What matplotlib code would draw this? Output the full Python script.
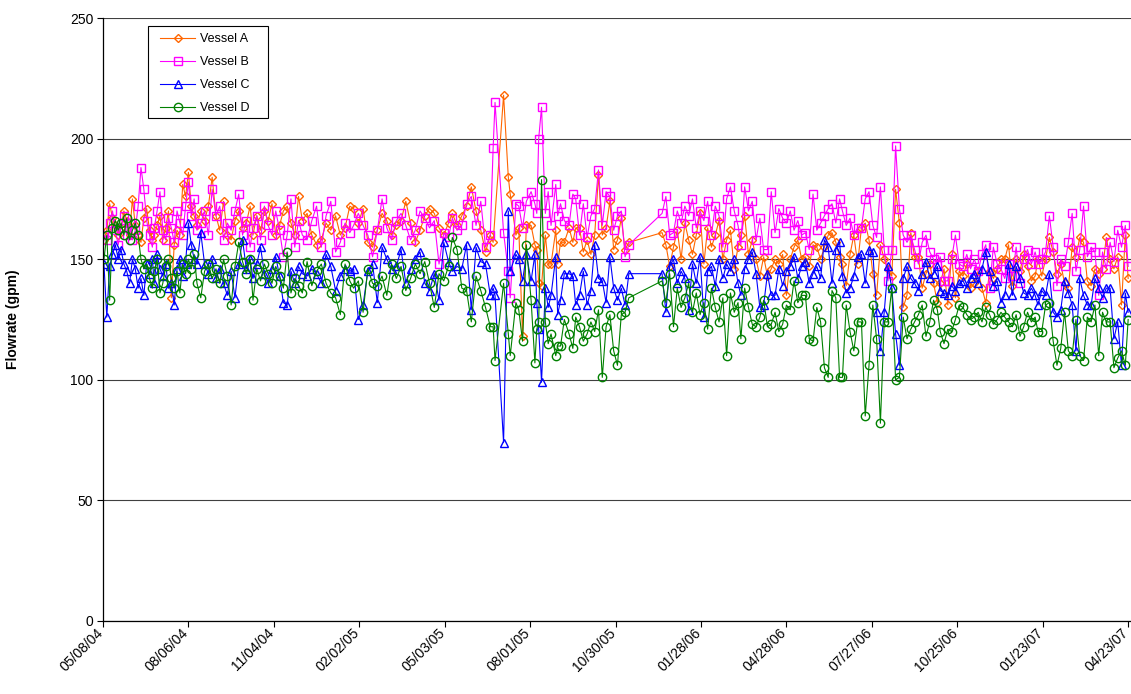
import numpy as np
import pandas as pd
import matplotlib
matplotlib.use('Agg')
import matplotlib.pyplot as plt
import matplotlib.dates as mdates
from matplotlib.patches import Rectangle
from matplotlib.transforms import ScaledTranslation

plt.rcParams['font.family'] = ['Liberation Sans', 'DejaVu Sans']

start = pd.Timestamp('2004-05-08')

# sampling days, counted from 05/08/04
days = [
    1, 4, 7, 10, 13, 16, 19, 22, 25, 28, 31, 34, 37, 40, 43, 46, 49, 52, 54, 57, 60, 63, 66, 69, 72, 75, 78, 81, 84, 87, 90, 93, 96, 99,
    103, 107, 111, 115, 119, 123, 127, 131, 135, 139, 143, 147, 151, 155, 158, 162, 166, 170, 174, 178, 182, 186, 190, 194, 198, 202, 206,
    210, 215, 220, 225, 230, 235, 240, 245, 250, 255, 260, 264, 269, 274, 279, 284, 289, 294, 299, 304, 309,
    314, 319, 324, 329, 334, 339, 344, 349, 354, 359, 364, 368, 373, 378, 383, 388, 393, 398, 403, 408,
    411, 413, 422, 427, 429, 435, 438, 442, 446, 451, 455, 457, 459, 462, 466, 469, 472, 477, 479, 482, 486, 491, 495, 498,
    502, 506, 510, 514, 518, 522, 526, 530, 534, 538, 542, 546, 550, 554,
    589, 593, 597, 601, 605, 609, 613, 617, 621, 625, 629, 633, 637, 641, 645, 649, 653, 657, 661, 665, 669, 672, 676, 680, 684, 688,
    692, 696, 700, 704, 708, 712, 716, 720, 724, 728, 732, 736, 740, 744, 748, 752, 756, 760, 764, 768, 772, 776, 779, 783, 787, 791, 795,
    799, 803, 807, 811, 815, 819, 823, 827, 831, 835, 839, 843, 847, 851, 855, 859, 863, 867, 871, 875, 879, 882, 886,
    890, 894, 898, 902, 906, 910, 914, 918, 922, 926, 930, 934, 938, 942, 946, 950, 954, 958, 962, 966, 970, 974, 978, 982, 985,
    989, 993, 997, 1001, 1005, 1009, 1013, 1017, 1021, 1025, 1029, 1033, 1037, 1041, 1045, 1049, 1053, 1057, 1061, 1065, 1069, 1073, 1077, 1080,
]

vessel_a = [
    158, 162, 173, 167, 164, 160, 163, 170, 166, 160, 175, 164, 160, 157, 167, 171, 162, 158, 160, 164, 168, 158, 163, 170, 134, 156, 162, 160, 181, 176, 186, 172, 168, 164,
    170, 166, 172, 184, 168, 162, 174, 160, 158, 166, 170, 163, 165, 172, 160, 168, 162, 170, 166, 173, 160, 164, 170, 172, 165, 160, 176,
    166, 169, 160, 156, 158, 165, 162, 168, 160, 163, 172, 171, 165, 171, 157, 155, 162, 169, 166, 160, 164,
    166, 174, 165, 157, 162, 168, 171, 169, 163, 160, 165, 169, 164, 168, 172, 180, 170, 162, 153, 160,
    157, None, 218, 184, 177, 160, 163, 118, 164, 164, 156, 154, 140, 139, 160, 148, 148, 162, 148, 157, 157, 163, 157, 163,
    163, 153, 158, 152, 160, 185, 160, 163, 174, 154, 158, 167, 154, 157,
    161, 156, 147, 155, 162, 150, 165, 158, 152, 160, 169, 148, 163, 155, 160, 166, 150, 158, 162, 146, 155, 160, 168, 152, 158, 150,
    143, 151, 143, 146, 150, 148, 152, 135, 150, 155, 158, 150, 151, 147, 156, 155, 150, 155, 160, 161, 157, 151, 148, 139, 152, 160, 148,
    163, 165, 158, 144, 135, 156, 150, 146, 143, 179, 165, 130, 135, 161, 151, 151, 138, 144, 148, 140, 132, 140, 146,
    131, 152, 134, 145, 143, 148, 138, 140, 145, 138, 132, 145, 142, 146, 150, 150, 156, 139, 150, 145, 152, 147, 141, 143, 150,
    143, 150, 159, 153, 144, 148, 140, 138, 155, 151, 159, 157, 141, 139, 146, 144, 146, 159, 150, 146, 151, 131, 160, 142,
]

vessel_b = [
    160, 158, 165, 170, 162, 156, 163, 168, 160, 165, 158, 162, 172, 188, 179, 166, 160, 155, 163, 170, 178, 162, 158, 167, 163, 157, 170, 165, 160, 172, 182, 168, 175, 162,
    165, 170, 160, 179, 168, 172, 158, 165, 162, 170, 177, 160, 166, 155, 163, 168, 158, 172, 164, 160, 170, 162, 151, 160, 175, 155, 166,
    160, 158, 166, 172, 155, 168, 174, 153, 157, 165, 161, 164, 169, 164, 160, 151, 162, 175, 163, 158, 166,
    169, 164, 158, 162, 170, 167, 163, 166, 148, 161, 159, 167, 162, 164, 173, 176, 164, 174, 155, 160,
    196, 215, 161, 145, 134, 173, 172, 163, 174, 178, 173, 169, 200, 213, 169, 178, 164, 181, 168, 173, 166, 164, 177, 175,
    160, 173, 159, 168, 171, 187, 164, 178, 176, 162, 168, 170, 151, 156,
    169, 176, 160, 161, 170, 165, 172, 168, 175, 163, 170, 166, 174, 160, 172, 168, 155, 175, 180, 170, 164, 156, 180, 170, 174, 158,
    167, 154, 154, 178, 161, 171, 167, 165, 170, 162, 166, 160, 161, 154, 177, 162, 165, 168, 171, 173, 165, 175, 170, 164, 167, 160, 163,
    163, 175, 178, 164, 159, 180, 154, 141, 154, 197, 171, 160, 157, 160, 154, 148, 157, 160, 153, 150, 148, 151, 141,
    141, 150, 160, 148, 147, 152, 146, 150, 145, 152, 156, 138, 155, 148, 146, 142, 148, 143, 155, 140, 150, 154, 148, 153, 148,
    150, 153, 168, 155, 139, 150, 147, 157, 169, 145, 154, 172, 151, 155, 153, 135, 153, 146, 157, 149, 162, 155, 164, 147,
]

vessel_c = [
    148, 126, 147, 152, 156, 150, 154, 148, 145, 140, 150, 146, 138, 142, 135, 148, 144, 150, 140, 152, 146, 143, 148, 138, 140, 131, 146, 150, 143, 148, 165, 156, 150, 148,
    161, 148, 144, 150, 142, 146, 140, 135, 145, 134, 148, 158, 146, 150, 142, 148, 155, 144, 140, 146, 151, 143, 132, 131, 145, 140, 147,
    144, 143, 146, 144, 140, 152, 147, 137, 143, 146, 145, 146, 125, 131, 145, 148, 132, 155, 150, 146, 147,
    154, 140, 146, 150, 153, 140, 137, 144, 133, 157, 149, 145, 147, 146, 156, 129, 155, 149, 148, 135,
    138, 135, 74, 170, 145, 152, 150, 141, 152, 141, 152, 132, 121, 99, 138, 130, 135, 151, 127, 133, 144, 144, 143, 131,
    135, 145, 131, 137, 156, 142, 141, 132, 151, 138, 133, 138, 131, 144,
    144, 128, 147, 150, 140, 145, 142, 129, 148, 140, 151, 126, 145, 147, 139, 150, 142, 148, 145, 150, 140, 135, 146, 150, 153, 144,
    130, 131, 144, 135, 135, 146, 139, 145, 147, 151, 142, 147, 149, 140, 144, 147, 142, 158, 155, 140, 154, 157, 143, 136, 138, 143, 151,
    152, 140, 154, 153, 128, 112, 128, 147, 138, 119, 106, 142, 147, 142, 140, 137, 144, 149, 142, 144, 147, 137, 136,
    135, 139, 137, 140, 141, 138, 142, 144, 140, 146, 153, 145, 139, 141, 132, 135, 148, 135, 147, 142, 136, 135, 138, 135, 131,
    137, 135, 144, 128, 126, 129, 141, 136, 131, 112, 142, 135, 131, 131, 142, 138, 134, 138, 138, 117, 124, 106, 136, 128,
]

vessel_d = [
    150, 160, 133, 163, 166, 162, 165, 160, 167, 158, 162, 165, 160, 150, 146, 148, 142, 138, 145, 150, 136, 140, 147, 150, 142, 138, 145, 136, 148, 144, 150, 146, 152, 140,
    134, 145, 148, 142, 146, 140, 150, 143, 131, 147, 157, 149, 144, 150, 133, 146, 141, 148, 144, 140, 147, 143, 138, 153, 136, 142, 139,
    136, 149, 139, 145, 148, 140, 136, 134, 127, 148, 141, 138, 141, 128, 146, 140, 139, 143, 135, 148, 142,
    147, 137, 142, 148, 144, 149, 140, 130, 144, 141, 147, 159, 154, 138, 137, 124, 143, 137, 130, 122,
    122, 108, 140, 119, 110, 132, 129, 116, 156, 133, 107, 121, 124, 183, 124, 115, 119, 110, 114, 114, 125, 119, 113, 126,
    122, 116, 119, 124, 120, 129, 101, 122, 127, 112, 106, 127, 128, 134,
    141, 132, 144, 122, 138, 130, 134, 140, 128, 136, 127, 132, 121, 138, 130, 124, 134, 110, 136, 128, 132, 117, 138, 130, 123, 122,
    126, 133, 122, 123, 128, 120, 123, 131, 129, 141, 132, 135, 135, 117, 116, 130, 124, 105, 101, 137, 134, 101, 101, 131, 120, 112, 124,
    124, 85, 106, 131, 117, 82, 124, 124, 138, 100, 101, 126, 117, 121, 124, 127, 131, 118, 124, 133, 129, 120, 115,
    121, 120, 125, 131, 130, 127, 125, 126, 128, 124, 130, 127, 123, 125, 128, 126, 124, 122, 127, 118, 122, 128, 124, 126, 120,
    120, 131, 132, 116, 106, 113, 128, 112, 110, 125, 110, 108, 126, 124, 131, 110, 128, 124, 124, 105, 109, 112, 106, 125,
]

df = pd.DataFrame({'day': days, 'Vessel A': vessel_a, 'Vessel B': vessel_b,
                   'Vessel C': vessel_c, 'Vessel D': vessel_d})
df['date'] = start + pd.to_timedelta(df['day'], unit='D')

styles = [
    ('Vessel A', '#FF6600', 'D', 4.5),
    ('Vessel B', '#FF00FF', 's', 5.5),
    ('Vessel C', '#0000FF', '^', 6),
    ('Vessel D', '#008000', 'o', 6),
]

fig = plt.figure(figsize=(11.31, 6.94), dpi=100)
ax = fig.add_axes([103 / 1131, 73 / 694, 1028 / 1131, 603 / 694])

for name, color, marker, ms in styles:
    s = df[['date', name]].dropna()
    ax.plot(s['date'], s[name], color=color, lw=0.8, marker=marker, ms=ms,
            mfc='none', mec=color, mew=1.0, label=name)

ax.set_ylim(0, 250)
ax.set_yticks([0, 50, 100, 150, 200, 250])
ax.set_xlim(start, start + pd.Timedelta(days=1083))
xt = [start + pd.Timedelta(days=90 * k) for k in range(13)]
ax.set_xticks(xt)
ax.tick_params(axis='x', labelbottom=False)

# rotated date labels, placed by hand so they sit just left of each tick
lab_tr = ax.get_xaxis_transform() + ScaledTranslation(-7 / 100, -5 / 100, fig.dpi_scale_trans)
for d in xt:
    ax.text(d, 0, d.strftime('%m/%d/%y'), transform=lab_tr, rotation=45,
            ha='right', va='top', rotation_mode='anchor', fontsize=10)

ax.yaxis.grid(True, color='#404040', lw=0.8)
ax.set_axisbelow(True)
for sp in ['top', 'right']:
    ax.spines[sp].set_visible(False)
ax.spines['left'].set_linewidth(0.9)
ax.spines['bottom'].set_linewidth(0.9)
ax.tick_params(axis='both', labelsize=10, direction='out', length=4, width=0.8, pad=3)

ax.set_ylabel('Flowrate (gpm)', fontsize=10, fontweight='bold')
ax.yaxis.set_label_coords(-0.0807, 0.5)

# legend box drawn separately so its size matches the original
ax.add_patch(Rectangle((45 / 1028, 503 / 603), 120 / 1028, 92 / 603, transform=ax.transAxes,
                       facecolor='white', edgecolor='black', lw=0.8, zorder=5))
leg = ax.legend(loc='upper left', bbox_to_anchor=(57 / 1028, 588 / 603), borderaxespad=0,
                borderpad=0, fontsize=9, frameon=False, handlelength=2.8,
                handletextpad=0.4, labelspacing=0.88)
leg.set_zorder(6)

fig.savefig('out.png', dpi=100)
